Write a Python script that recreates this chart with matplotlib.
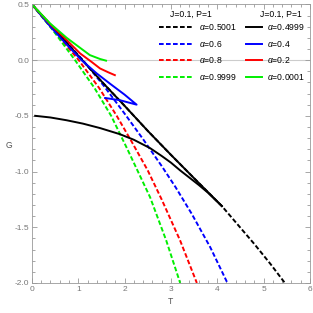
import numpy as np
import matplotlib
matplotlib.use("Agg")
import matplotlib.pyplot as plt
from matplotlib.lines import Line2D
from matplotlib.ticker import MultipleLocator, FormatStrFormatter

plt.rcParams['font.family'] = ['Liberation Sans', 'DejaVu Sans']
plt.rcParams['mathtext.fontset'] = 'custom'
plt.rcParams['mathtext.it'] = 'Liberation Sans:italic'
plt.rcParams['mathtext.rm'] = 'Liberation Sans'

# ---- data (T, G) ----
# dashed: alpha > 1/2
T_a5001 = [0, 0.5, 1.0, 1.5, 2.0, 2.5, 3.0, 3.5, 4.1, 4.45, 4.8, 5.15, 5.46]
G_a5001 = [0.5, 0.27, 0.04, -0.19, -0.41, -0.635, -0.85, -1.06, -1.31, -1.48, -1.65, -1.83, -2.0]
T_a6 = [0, 0.55, 1.1, 1.55, 2.0, 2.4, 2.8, 3.1, 3.45, 3.85, 4.22]
G_a6 = [0.5, 0.25, 0.0, -0.23, -0.48, -0.71, -0.95, -1.14, -1.38, -1.68, -2.0]
T_a8 = [0, 0.5, 1.01, 1.45, 1.83, 2.15, 2.5, 2.8, 3.2, 3.56]
G_a8 = [0.5, 0.25, 0.0, -0.25, -0.5, -0.73, -0.99, -1.25, -1.62, -2.0]
T_a9999 = [0, 0.45, 0.93, 1.35, 1.71, 2.05, 2.55, 2.9, 3.2]
G_a9999 = [0.5, 0.27, 0.0, -0.25, -0.5, -0.79, -1.23, -1.62, -2.0]

# solid: alpha < 1/2
T_a4999 = [0, 0.5, 1.0, 1.5, 2.0, 2.5, 3.0, 3.5, 4.1]
G_a4999 = [0.5, 0.27, 0.04, -0.19, -0.41, -0.635, -0.85, -1.06, -1.31]
T_a4999b = [0.07, 0.4, 0.75, 1.1, 1.47, 1.9, 2.2, 2.55, 2.8, 3.0, 3.2, 3.4, 3.6, 3.8, 3.95, 4.1]
G_a4999b = [-0.5, -0.515, -0.54, -0.57, -0.61, -0.665, -0.715, -0.79, -0.86, -0.92, -0.99,
            -1.055, -1.12, -1.19, -1.25, -1.31]
T_a4 = [0, 0.4, 0.75, 1.07, 1.4, 1.68, 2.0, 2.26, 1.9, 1.58]
G_a4 = [0.5, 0.3, 0.14, 0.0, -0.12, -0.21, -0.31, -0.40, -0.36, -0.34]
T_a2 = [0, 0.4, 0.75, 1.04, 1.3, 1.47, 1.65, 1.79]
G_a2 = [0.5, 0.32, 0.18, 0.06, -0.02, -0.075, -0.11, -0.135]
T_a0001 = [0, 0.39, 0.75, 1.04, 1.25, 1.47, 1.6]
G_a0001 = [0.5, 0.33, 0.2, 0.11, 0.045, 0.01, -0.005]

dashed = [(T_a5001, G_a5001, 'black', r'$\alpha$=0.5001'),
          (T_a6, G_a6, '#0000ff', r'$\alpha$=0.6'),
          (T_a8, G_a8, '#ff0000', r'$\alpha$=0.8'),
          (T_a9999, G_a9999, '#00ee00', r'$\alpha$=0.9999')]
solid = [(T_a4999, G_a4999, 'black', r'$\alpha$=0.4999'),
         (T_a4, G_a4, '#0000ff', r'$\alpha$=0.4'),
         (T_a2, G_a2, '#ff0000', r'$\alpha$=0.2'),
         (T_a0001, G_a0001, '#00ee00', r'$\alpha$=0.0001')]

fig = plt.figure(figsize=(3.13, 3.13), dpi=100)
ax = fig.add_axes([0.102, 0.096, 0.888, 0.890])

gray = '#999999'
ax.axhline(0, color='#cccccc', lw=0.8, zorder=0)

lw = 1.4
dash = (0, (2.4, 1.2))
for T, G, c, lab in dashed:
    ax.plot(T, G, color=c, lw=lw, ls=dash)
for T, G, c, lab in solid:
    ax.plot(T, G, color=c, lw=lw)
ax.plot(T_a4999b, G_a4999b, color='black', lw=lw)

ax.set_xlim(0, 6)
ax.set_ylim(-2, 0.5)
ax.xaxis.set_major_locator(MultipleLocator(1))
ax.xaxis.set_minor_locator(MultipleLocator(0.2))
ax.yaxis.set_major_locator(MultipleLocator(0.5))
ax.yaxis.set_minor_locator(MultipleLocator(0.1))
ax.yaxis.set_major_formatter(FormatStrFormatter('%.1f'))
ax.tick_params(which='both', direction='in', top=True, right=True,
               colors=gray, labelcolor='#777777', labelsize=6, width=0.6, pad=2)
ax.tick_params(which='major', length=3.5)
ax.tick_params(which='minor', length=2)
ax.tick_params(labeltop=False, labelright=False)
for s in ax.spines.values():
    s.set_color(gray)
    s.set_linewidth(0.6)

fig.text(6/313, 1-145/313, 'G', fontsize=6.2, color='#555555', va='center', ha='left')
fig.text(170/313, 1-302/313, 'T', fontsize=6.2, color='#555555', va='center', ha='center')

# legend titles
fig.text(191/313, 1-14/313, 'J=0.1, P=1', fontsize=6.2, ha='center', va='center')
fig.text(281/313, 1-14/313, 'J=0.1, P=1', fontsize=6.2, ha='center', va='center')

h1 = [Line2D([], [], color=c, lw=lw, ls=dash) for _, _, c, _ in dashed]
h2 = [Line2D([], [], color=c, lw=lw) for _, _, c, _ in solid]
common = dict(frameon=False, fontsize=6.2, loc='upper left',
              labelspacing=0.8, borderpad=0, borderaxespad=0)
leg1 = ax.legend(h1, [d[3] for d in dashed],
                 bbox_to_anchor=(0.458, 0.938), handlelength=3.8, handletextpad=0.8, **common)
ax.add_artist(leg1)
leg2 = ax.legend(h2, [d[3] for d in solid],
                 bbox_to_anchor=(0.77, 0.938), handlelength=1.9, handletextpad=0.6, **common)

fig.savefig('out.png', dpi=100)
